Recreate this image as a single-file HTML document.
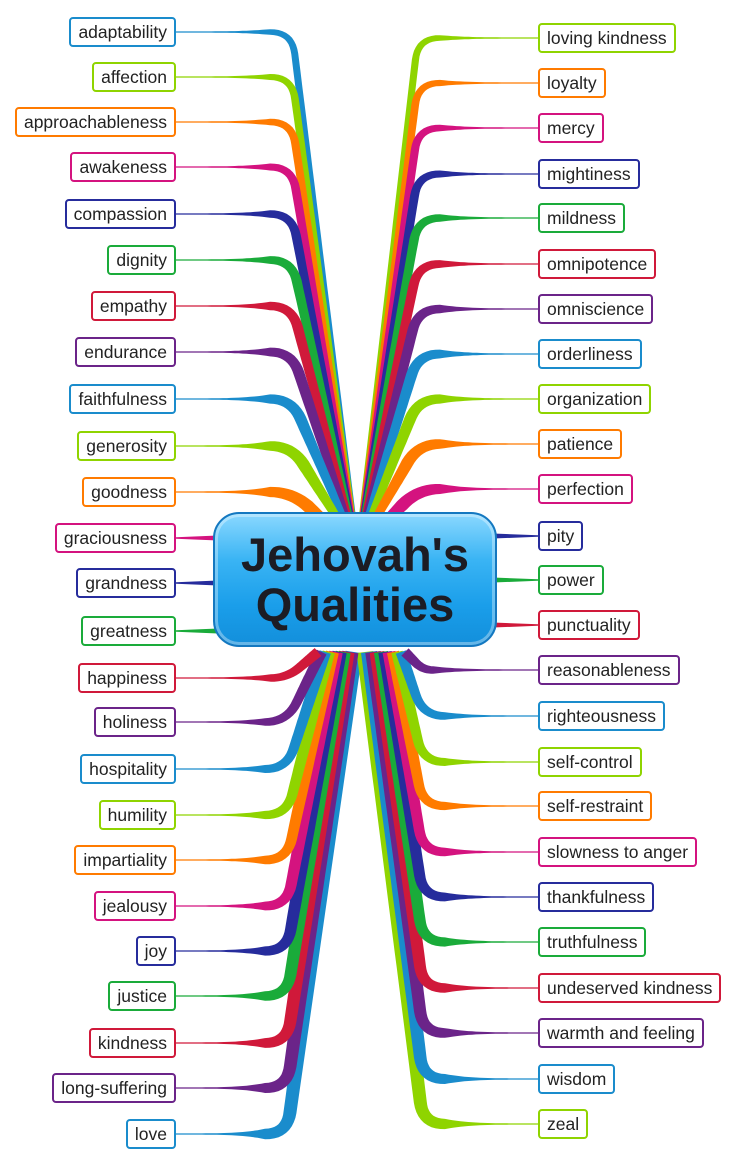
<!DOCTYPE html>
<html><head><meta charset="utf-8">
<style>
body{margin:0;width:736px;height:1166px;background:#fff;position:relative;overflow:hidden;font-family:"Liberation Sans",Arial,sans-serif;}
svg{position:absolute;left:0;top:0}
.n{position:absolute;height:26px;line-height:26px;padding:0 7px;border:2px solid;border-radius:4px;background:#fff;font-size:17.5px;color:#222;white-space:nowrap;}
#c{position:absolute;left:213px;top:512px;width:280px;height:131px;border-radius:26px;border:2px solid #1478c0;
background:linear-gradient(#8ad8ff 0%,#3ab4f4 35%,#1a9eea 70%,#138fdb 100%);box-shadow:inset 0 0 0 3px rgba(255,255,255,.35);
text-align:center;font-weight:bold;font-size:47px;line-height:50px;color:#1c1c24;}
#c div{padding-top:16px}
</style></head><body>
<svg id="s" width="736" height="1166"></svg>
<div id="nodes"></div>
<div id="c"><div>Jehovah's<br>Qualities</div></div>
<script>
var C=["#1a8ccc","#8fd400","#ff7b00","#d4137f","#262c9c","#1aab3a","#d0193a","#6b2489"];
var L=[["adaptability",32],["affection",77],["approachableness",122],["awakeness",167],["compassion",214],["dignity",260],["empathy",306],["endurance",352],["faithfulness",399],["generosity",446],["goodness",492],["graciousness",538],["grandness",583],["greatness",631],["happiness",678],["holiness",722],["hospitality",769],["humility",815],["impartiality",860],["jealousy",906],["joy",951],["justice",996],["kindness",1043],["long-suffering",1088],["love",1134]];
var R=[["loving kindness",38],["loyalty",83],["mercy",128],["mightiness",174],["mildness",218],["omnipotence",264],["omniscience",309],["orderliness",354],["organization",399],["patience",444],["perfection",489],["pity",536],["power",580],["punctuality",625],["reasonableness",670],["righteousness",716],["self-control",762],["self-restraint",806],["slowness to anger",852],["thankfulness",897],["truthfulness",942],["undeserved kindness",988],["warmth and feeling",1033],["wisdom",1079],["zeal",1124]];
var s=document.getElementById('s'),nd=document.getElementById('nodes'),NS="http://www.w3.org/2000/svg";
function poly(P,W,col){var A=[],B=[];for(var i=0;i<P.length;i++){var a=P[Math.max(0,i-1)],b=P[Math.min(P.length-1,i+1)];var dx=b[0]-a[0],dy=b[1]-a[1],l=Math.hypot(dx,dy)||1,w=W[i]/2;A.push([P[i][0]-dy/l*w,P[i][1]+dx/l*w]);B.push([P[i][0]+dy/l*w,P[i][1]-dx/l*w]);}
var pts=A.concat(B.reverse()).map(function(q){return q[0].toFixed(1)+","+q[1].toFixed(1)}).join(" ");var e=document.createElementNS(NS,"polygon");e.setAttribute("points",pts);e.setAttribute("fill",col);s.appendChild(e);}
function conn(x0,y,xc,T,w0,wc,wt,col){
 var dx=T[0]-xc,dy=T[1]-y,d=Math.hypot(dx,dy),ux=dx/d,uy=dy/d;var dir=xc>x0?1:-1;
 var r=Math.min(22,d*0.4,Math.abs(xc-x0)*0.5);
 var A=[xc-dir*r,y],Q=[xc,y],B=[xc+ux*r,y+uy*r];
 var P=[],W=[];var N1=24;
 for(var i=0;i<=N1;i++){var t=i/N1;P.push([x0+(A[0]-x0)*t,y]);W.push(w0+(wc*0.8-w0)*Math.pow(t,4));}
 for(var i=1;i<=10;i++){var t=i/10,u=1-t;P.push([u*u*A[0]+2*u*t*Q[0]+t*t*B[0],u*u*A[1]+2*u*t*Q[1]+t*t*B[1]]);W.push(wc*(0.8+0.2*t));}
 for(var i=1;i<=30;i++){var t=i/30;P.push([B[0]+(T[0]-B[0])*t,B[1]+(T[1]-B[1])*t]);W.push(wc+(wt-wc)*t);}
 poly(P,W,col);}
var jobs=[];
L.forEach(function(d,i){var col=C[i%8],y=d[1];
 if(y<520){var f=(520-y)/490;jobs.push([f,function(){conn(176,y,292,[357,550],1.2,13-6*f,6,col);}]);}
 else if(y>655){var k=Math.round((y-678)/45.5),f=(y-650)/490;jobs.push([f,function(){conn(176,y,287,[318+k*3.6,652],1.2,9+4*f,10+7*f,col);}]);}
 else {jobs.push([0,function(){poly([[176,y],[230,y]],[1.5,6],col);}]);}
 var n=document.createElement('div');n.className='n';n.textContent=d[0];n.style.right=(736-176)+'px';n.style.top=(y-15)+'px';n.style.borderColor=col;nd.appendChild(n);});
R.forEach(function(d,i){var col=C[(i+1)%8],y=d[1];
 if(y<520){var f=(520-y)/490;jobs.push([f,function(){conn(538,y,418,[358,550],1.2,13-6*f,6,col);}]);}
 else if(y>655){var k=Math.round((y-670)/45.4),f=(y-650)/490;jobs.push([f,function(){conn(538,y,423,[405-k*4,652],1.2,9+4*f,10+7*f,col);}]);}
 else {jobs.push([0,function(){poly([[538,y],[480,y]],[1.5,6],col);}]);}
 var n=document.createElement('div');n.className='n';n.textContent=d[0];n.style.left='538px';n.style.top=(y-15)+'px';n.style.borderColor=col;nd.appendChild(n);});
jobs.sort(function(a,b){return b[0]-a[0]});jobs.forEach(function(j){j[1]();});
</script>
</body></html>
